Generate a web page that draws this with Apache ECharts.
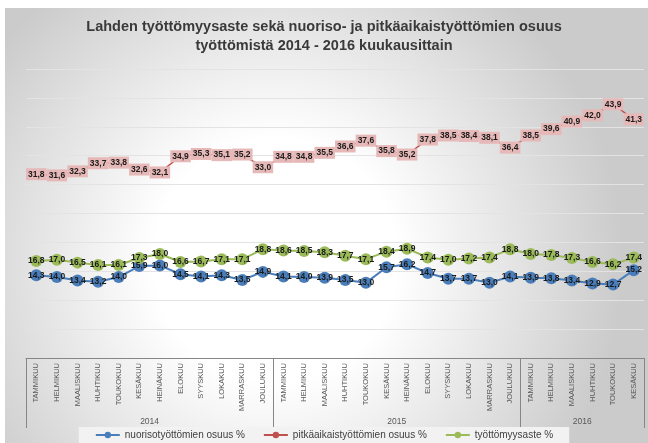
<!DOCTYPE html>
<html>
<head>
<meta charset="utf-8">
<script src="https://cdn.jsdelivr.net/npm/echarts@6/dist/echarts.min.js"></script>
<style>
  html, body { margin: 0; padding: 0; background: #fff; }
  #chart { width: 648px; height: 443px; }
</style>
</head>
<body>
<div id="chart"></div>
<script>
const monthNames = ['TAMMIKUU', 'HELMIKUU', 'MAALISKUU', 'HUHTIKUU', 'TOUKOKUU', 'KESÄKUU',
  'HEINÄKUU', 'ELOKUU', 'SYYSKUU', 'LOKAKUU', 'MARRASKUU', 'JOULUKUU'];
const months = [...monthNames, ...monthNames, ...monthNames.slice(0, 6)];
const years = ['2014', '2015', '2016'];
const yearStarts = [0, 12, 24, 30];
const yearCenters = [6, 18, 27];

const nuoriso = [14.3, 14.0, 13.4, 13.2, 14.0, 15.9, 16.0, 14.5, 14.1, 14.3, 13.5, 14.9,
  14.1, 14.0, 13.9, 13.5, 13.0, 15.7, 16.2, 14.7, 13.7, 13.7, 13.0, 14.1,
  13.9, 13.8, 13.4, 12.9, 12.7, 15.2];
const pitkaaikais = [31.8, 31.6, 32.3, 33.7, 33.8, 32.6, 32.1, 34.9, 35.3, 35.1, 35.2, 33.0,
  34.8, 34.8, 35.5, 36.6, 37.6, 35.8, 35.2, 37.8, 38.5, 38.4, 38.1, 36.4,
  38.5, 39.6, 40.9, 42.0, 43.9, 41.3];
const tyottomyysaste = [16.8, 17.0, 16.5, 16.1, 16.1, 17.3, 18.0, 16.6, 16.7, 17.1, 17.1, 18.8,
  18.6, 18.5, 18.3, 17.7, 17.1, 18.4, 18.9, 17.4, 17.0, 17.2, 17.4, 18.8,
  18.0, 17.8, 17.3, 16.6, 16.2, 17.4];

const font = 'Liberation Sans';
const fmt = (p) => p.value.toFixed(1).replace('.', ',');

const chart = echarts.init(document.getElementById('chart'));

chart.setOption({
  animation: false,
  textStyle: { fontFamily: font },
  graphic: [{
    type: 'rect',
    z: -10,
    silent: true,
    shape: { x: 5, y: 8, width: 643, height: 435 },
    style: {
      fill: new echarts.graphic.RadialGradient(0.42, 0.58, 0.8, [
        { offset: 0, color: '#ffffff' },
        { offset: 0.35, color: '#ffffff' },
        { offset: 1, color: '#cbcbcb' },
      ]),
    },
  }],
  title: {
    text: 'Lahden työttömyysaste sekä nuoriso- ja pitkäaikaistyöttömien osuus\ntyöttömistä 2014 - 2016 kuukausittain',
    left: 'center',
    top: 12,
    textStyle: { fontSize: 14.5, fontWeight: 'bold', color: '#3a3a3a', lineHeight: 19, fontFamily: font },
  },
  legend: {
    bottom: 0,
    left: 'center',
    itemWidth: 24,
    itemHeight: 8,
    itemGap: 18,
    padding: [3, 16, 3, 16],
    backgroundColor: '#f2f2f2',
    textStyle: { fontSize: 10, color: '#404040', fontFamily: font },
  },
  grid: { left: 26, right: 4, top: 69, bottom: 85, containLabel: false },
  xAxis: [
    {
      type: 'category',
      data: months,
      position: 'bottom',
      offset: 0,
      axisLine: { show: true, lineStyle: { color: '#868686' } },
      axisTick: { show: false },
      axisLabel: { interval: 0, rotate: 90, fontSize: 7.5, color: '#595959', margin: 5 },
    },
    {
      type: 'value',
      min: 0,
      max: 30,
      position: 'bottom',
      offset: 0,
      axisLine: { show: false },
      splitLine: { show: false },
      axisTick: {
        show: true,
        inside: false,
        length: 70,
        customValues: yearStarts,
        lineStyle: { color: '#868686' },
      },
      axisLabel: {
        customValues: yearCenters,
        margin: 59,
        fontSize: 8.5,
        color: '#595959',
        formatter: (v) => years[yearCenters.indexOf(v)] || '',
      },
    },
  ],
  yAxis: {
    type: 'value',
    min: 0,
    max: 50,
    interval: 5,
    axisLabel: { show: false },
    axisLine: { show: false },
    axisTick: { show: false },
    splitLine: { lineStyle: { color: '#e3e3e3' } },
  },
  series: [
    {
      name: 'nuorisotyöttömien osuus %',
      type: 'line',
      data: nuoriso,
      color: '#4a7ebb',
      symbol: 'circle',
      symbolSize: 12,
      lineStyle: { width: 2 },
      label: {
        show: true, position: 'inside', formatter: fmt,
        fontSize: 8.5, fontWeight: 'bold', color: '#1a1a1a',
      },
    },
    {
      name: 'pitkäaikaistyöttömien osuus %',
      type: 'line',
      data: pitkaaikais,
      color: '#c0504d',
      symbol: 'circle',
      symbolSize: 3,
      lineStyle: { width: 1.5 },
      label: {
        show: true, position: 'inside', formatter: fmt,
        fontSize: 8.5, fontWeight: 'bold', color: '#1a1a1a',
        backgroundColor: '#e6b9b8', padding: [2, 2, 1, 2],
      },
    },
    {
      name: 'työttömyysaste %',
      type: 'line',
      data: tyottomyysaste,
      color: '#9bbb59',
      symbol: 'circle',
      symbolSize: 12,
      lineStyle: { width: 2 },
      label: {
        show: true, position: 'inside', formatter: fmt,
        fontSize: 8.5, fontWeight: 'bold', color: '#1a1a1a',
      },
    },
  ],
});
</script>
</body>
</html>
